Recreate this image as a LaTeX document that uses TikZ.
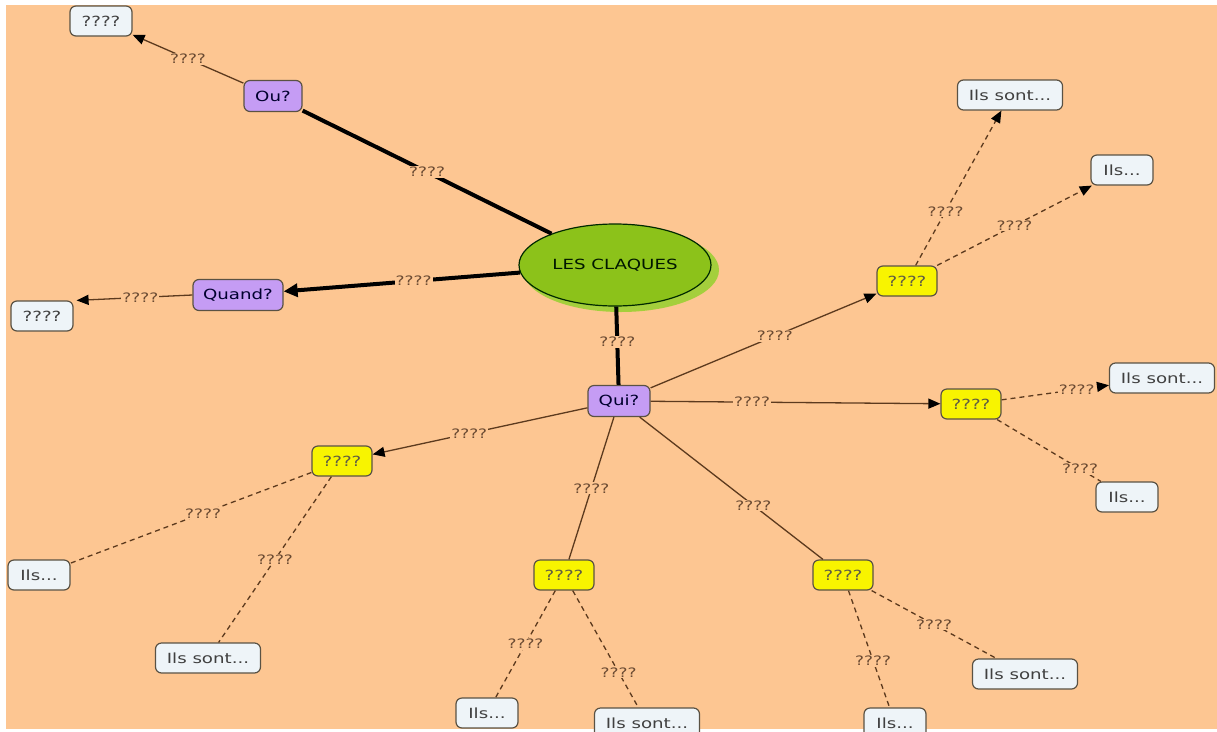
\documentclass[tikz,border=0pt]{standalone}
\usepackage{fontspec}
\setmainfont{DejaVu Sans}[FakeStretch=1.3]
\usetikzlibrary{arrows.meta,shapes.geometric}
\definecolor{bg}{HTML}{FDC692}
\definecolor{purp}{HTML}{C59CF4}
\definecolor{yel}{HTML}{F8F400}
\definecolor{wnode}{HTML}{EEF4F8}
\definecolor{bord}{HTML}{5A5244}
\definecolor{brn}{HTML}{5C3A1E}
\definecolor{lbltxt}{HTML}{6A4A32}
\definecolor{grn}{HTML}{8CC21A}
\definecolor{grnsh}{HTML}{A4CF3C}
\begin{document}
\begin{tikzpicture}[x=1pt,y=-1pt,
  box/.style={rectangle,rounded corners=6pt,draw=bord,line width=1.2pt,minimum height=30pt,inner sep=2pt,font=\fontsize{14}{16}\selectfont},
  wbox/.style={box,fill=wnode,text=black!75},
  pbox/.style={box,fill=purp,text=black!70!blue!60!black,minimum height=31pt},
  ybox/.style={box,fill=yel,text=black!60!yellow!70!black,minimum width=60pt},
  lbl/.style={fill=bg,inner sep=1pt,text=lbltxt,font=\fontsize{13}{15}\selectfont},
  thickline/.style={line width=4pt,black},
  thinline/.style={line width=1.3pt,brn},
  dashline/.style={line width=1.3pt,brn,dash pattern=on 5pt off 4pt},
  arrtip/.style={-{Triangle[length=12pt,width=10pt,black]}},
  bigarrtip/.style={-{Triangle[length=14pt,width=13pt,black]}}
]
\useasboundingbox (0,0) rectangle (1217,731);
\clip (0,0) rectangle (1217,731);
\fill[white] (0,0) rectangle (1217,731);
\fill[bg] (6,5) rectangle (1217,729);

% central ellipse
\fill[grnsh] (621,270) ellipse [x radius=98pt, y radius=42pt];
\node[ellipse,draw=black!60!green!40!black,line width=1.2pt,fill=grn,minimum width=192pt,minimum height=82pt,text=black!70!green!30!black,font=\fontsize{14}{16}\selectfont] (c) at (615,265) {LES CLAQUES};

% first level
\node[pbox,minimum width=58pt] (ou) at (273,96) {Ou?};
\node[pbox,minimum width=90pt] (quand) at (238,295) {Quand?};
\node[pbox,minimum width=62pt] (qui) at (619,401) {Qui?};

\node[wbox,minimum width=62pt] (tl) at (101,21) {????};
\node[wbox,minimum width=62pt] (ql) at (42,316) {????};

% yellow nodes
\node[ybox] (y1) at (907,281) {????};
\node[ybox] (y2) at (971,404) {????};
\node[ybox] (y3) at (342,461) {????};
\node[ybox] (y4) at (564,575) {????};
\node[ybox] (y5) at (843,575) {????};

% leaves
\node[wbox,minimum width=105pt] (a1) at (1010,95) {Ils sont...};
\node[wbox,minimum width=62pt] (a2) at (1122,170) {Ils...};
\node[wbox,minimum width=105pt] (b1) at (1162,378) {Ils sont...};
\node[wbox,minimum width=62pt] (b2) at (1127,497) {Ils...};
\node[wbox,minimum width=62pt] (c1) at (39,575) {Ils...};
\node[wbox,minimum width=105pt] (c2) at (208,658) {Ils sont...};
\node[wbox,minimum width=62pt] (d1) at (487,713) {Ils...};
\node[wbox,minimum width=105pt] (d2) at (647,723) {Ils sont...};
\node[wbox,minimum width=105pt] (e1) at (1025,674) {Ils sont...};
\node[wbox,minimum width=62pt] (e2) at (895,723) {Ils...};

% thick links
\draw[thickline] (c) -- node[lbl,pos=0.5] {????} (ou);
\draw[thickline,bigarrtip] (c) -- node[lbl,pos=0.45] {????} (quand);
\draw[thickline] (c) -- node[lbl,pos=0.45] {????} (qui);

% thin links
\draw[thinline,arrtip] (quand.west) -- node[lbl,pos=0.45] {????} ([xshift=3pt]ql.north east);
\draw[thinline,arrtip] (ou) -- node[lbl] {????} (tl);
\draw[thinline,arrtip] (qui) -- node[lbl,pos=0.55] {????} (y1);
\draw[thinline,arrtip] (qui) -- node[lbl,pos=0.35] {????} (y2);
\draw[thinline,arrtip] (qui) -- node[lbl,pos=0.55] {????} (y3);
\draw[thinline] (qui) -- node[lbl,pos=0.5] {????} (y4);
\draw[thinline] (qui) -- node[lbl,pos=0.62] {????} (y5);

% dashed links
\draw[dashline,arrtip] (y1) -- node[lbl,pos=0.35] {????} (a1);
\draw[dashline,arrtip] (y1) -- node[lbl,pos=0.5] {????} (a2);
\draw[dashline,arrtip] (y2) -- node[lbl,pos=0.7] {????} (b1);
\draw[dashline] (y2) -- node[lbl,pos=0.8] {????} (b2);
\draw[dashline] (y3) -- node[lbl,pos=0.45] {????} (c1);
\draw[dashline] (y3) -- node[lbl,pos=0.5] {????} (c2);
\draw[dashline] (y4) -- node[lbl,pos=0.5] {????} (d1);
\draw[dashline] (y4) -- node[lbl,pos=0.7] {????} (d2);
\draw[dashline] (y5) -- node[lbl,pos=0.5] {????} (e1);
\draw[dashline] (y5) -- node[lbl,pos=0.6] {????} (e2);
\end{tikzpicture}
\end{document}
